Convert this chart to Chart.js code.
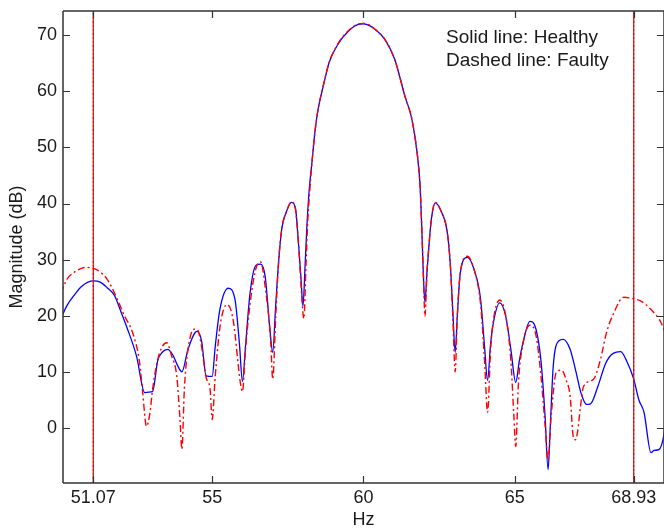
<!DOCTYPE html>
<html>
<head>
<meta charset="utf-8">
<script src="https://cdn.jsdelivr.net/npm/chart.js@4"></script>
<style>
html,body{margin:0;padding:0;background:#fff;}
canvas{display:block;}
</style>
</head>
<body>
<canvas id="c" width="664" height="529"></canvas>
<script>
const hzHealthy = [50.0,50.2,50.43,50.7,51.07,51.3,51.53,51.77,52.0,52.17,52.5,52.77,52.9,53.03,53.2,53.35,53.53,53.7,53.85,54.0,54.2,54.5,54.65,54.8,55.0,55.1,55.25,55.53,55.75,55.9,56.0,56.1,56.25,56.45,56.6,56.75,56.9,57.0,57.1,57.2,57.3,57.45,57.62,57.75,57.85,57.93,58.0,58.07,58.13,58.2,58.3,58.4,58.5,58.67,58.87,59.17,59.5,59.83,60.0,60.2,60.37,60.7,61.03,61.37,61.6,61.77,61.87,61.93,61.97,62.03,62.1,62.17,62.25,62.37,62.55,62.77,62.87,62.95,63.03,63.1,63.2,63.43,63.65,63.87,64.0,64.1,64.2,64.3,64.5,64.7,64.87,65.03,65.15,65.27,65.5,65.7,65.87,66.0,66.1,66.17,66.27,66.45,66.6,66.83,67.0,67.2,67.37,67.5,67.75,68.0,68.25,68.5,68.7,68.93,69.1,69.27,69.5,69.6,69.77,69.9,70.0];
const dbHealthy = [19.5,21.8,23.6,25.3,26.2,26.0,25.0,23.6,20.5,18.1,12.8,6.3,6.4,6.5,12.0,13.5,14.0,13.0,11.2,10.0,14.0,17.2,15.5,9.3,9.2,14.5,21.0,24.9,23.0,15.0,8.3,14.5,24.0,29.0,29.2,27.0,18.0,13.5,22.0,30.0,35.5,38.5,40.2,39.2,33.0,27.0,21.7,29.0,36.0,42.0,47.5,53.0,56.8,60.9,65.2,68.5,70.7,71.9,72.0,71.7,71.1,69.3,65.7,59.1,55.0,49.1,43.1,35.0,28.5,22.4,28.0,33.0,37.5,40.1,38.8,34.8,29.0,21.0,13.5,20.0,27.7,30.4,28.3,22.9,14.5,8.5,15.0,19.0,22.3,19.9,14.0,8.1,12.0,15.2,19.0,17.6,11.7,2.1,-7.4,0.0,11.0,15.5,15.8,14.0,10.5,6.0,4.2,4.3,7.5,11.5,13.3,13.6,11.9,8.7,5.0,2.8,-4.4,-4.0,-3.8,-2.0,1.9];

const hzFaulty = [50.0,50.2,50.43,50.7,50.87,51.1,51.3,51.53,51.87,52.1,52.37,52.6,52.7,52.83,52.95,53.03,53.2,53.35,53.5,53.65,53.83,53.93,54.0,54.08,54.2,54.4,54.5,54.65,54.8,54.93,55.0,55.1,55.27,55.5,55.7,55.93,56.0,56.1,56.27,56.45,56.6,56.75,56.93,57.0,57.1,57.2,57.3,57.45,57.62,57.75,57.85,57.93,58.03,58.1,58.15,58.22,58.3,58.4,58.5,58.67,58.87,59.17,59.5,59.83,60.0,60.2,60.37,60.7,61.03,61.37,61.6,61.77,61.87,61.93,61.98,62.03,62.1,62.17,62.25,62.37,62.55,62.77,62.87,62.95,63.03,63.1,63.2,63.43,63.65,63.87,64.0,64.1,64.2,64.3,64.5,64.7,64.87,64.97,65.03,65.12,65.27,65.5,65.7,65.87,66.0,66.1,66.2,66.37,66.55,66.7,66.83,66.93,67.0,67.07,67.17,67.27,67.6,67.83,68.03,68.27,68.6,68.93,69.17,69.5,69.83,70.0];
const dbFaulty = [24.0,26.5,27.7,28.5,28.6,28.4,27.8,26.5,22.9,20.0,17.0,11.7,6.5,0.3,3.0,6.9,12.2,14.5,15.2,13.0,9.2,2.1,-3.8,6.9,14.0,17.6,17.6,14.5,9.0,6.9,1.5,9.2,18.5,22.0,19.0,8.1,6.5,14.0,22.9,28.5,29.6,25.2,15.8,8.7,20.0,30.0,35.5,38.5,40.3,39.0,33.0,26.0,19.5,29.0,36.0,42.0,47.5,53.0,56.8,61.0,65.2,68.6,70.8,72.0,72.1,71.8,71.1,69.3,65.7,59.1,55.0,49.1,43.1,35.0,27.0,19.9,28.0,33.0,37.5,40.2,38.8,34.8,29.0,20.0,10.0,20.0,27.7,30.6,28.3,22.0,12.0,2.8,14.0,19.5,22.8,20.0,12.0,2.0,-3.3,8.0,15.0,18.3,16.5,9.0,0.5,-5.7,2.0,9.9,10.3,8.5,5.6,-1.5,-2.1,-0.8,3.8,7.4,8.7,12.2,17.0,20.5,23.3,23.0,22.6,21.1,18.8,16.5];

const markerHz = [51.07, 68.93];
const xTickValues = [51.07, 55, 60, 65, 68.93];
const xTickLabels = ['51.07', '55', '60', '65', '68.93'];
const yTickValues = [0, 10, 20, 30, 40, 50, 60, 70];
const legendLines = ['Solid line: Healthy', 'Dashed line: Faulty'];

const X_MIN = 50.07, X_MAX = 69.93, Y_MIN = -9.8, Y_MAX = 74.3;

const toPts = (xs, ys) => xs.map((x, i) => ({x: x, y: ys[i]}));

const datasets = [
  {label: 'Healthy', data: toPts(hzHealthy, dbHealthy), borderColor: '#0000ff', borderWidth: 1.3,
   pointRadius: 0, cubicInterpolationMode: 'monotone', order: 2},
  {label: 'Faulty', data: toPts(hzFaulty, dbFaulty), borderColor: '#ff0000', borderWidth: 1.4,
   borderDash: [7, 3, 2, 3], pointRadius: 0, cubicInterpolationMode: 'monotone', order: 1}
];
const markerColors = [['#e00000', [], 0], ['#00b0e0', [2, 10], 0], ['#90c000', [2, 10], 4], ['#9020e0', [2, 10], 8]];
markerHz.forEach(h => {
  markerColors.forEach(([c, d, o]) => {
    datasets.push({label: 'marker', data: [{x: h, y: Y_MIN}, {x: h, y: Y_MAX}], borderColor: c,
      borderWidth: 1.2, borderDash: d, borderDashOffset: o, pointRadius: 0, order: 0});
  });
});

const framePlugin = {
  id: 'frame',
  afterDraw(chart) {
    const {ctx, chartArea: a, scales: {x, y}} = chart;
    ctx.save();
    ctx.strokeStyle = '#333';
    ctx.lineWidth = 1.5;
    ctx.beginPath();
    ctx.moveTo(a.left, a.top); ctx.lineTo(a.right + 2, a.top);
    ctx.moveTo(a.left, a.top); ctx.lineTo(a.left, a.bottom);
    ctx.moveTo(a.left, a.bottom); ctx.lineTo(a.right + 2, a.bottom);
    ctx.moveTo(a.right, a.top); ctx.lineTo(a.right, a.bottom);
    ctx.stroke();
    ctx.lineWidth = 1.2;
    ctx.beginPath();
    xTickValues.forEach(v => {
      const px = Math.round(x.getPixelForValue(v)) + 0.5;
      ctx.moveTo(px, a.bottom); ctx.lineTo(px, a.bottom - 7);
      ctx.moveTo(px, a.top); ctx.lineTo(px, a.top + 7);
    });
    yTickValues.forEach(v => {
      const py = Math.round(y.getPixelForValue(v)) + 0.5;
      ctx.moveTo(a.left, py); ctx.lineTo(a.left + 7, py);
      ctx.moveTo(a.right, py); ctx.lineTo(a.right - 7, py);
    });
    ctx.stroke();
    ctx.fillStyle = '#1a1a1a';
    ctx.font = '19px "Liberation Sans", Arial, sans-serif';
    ctx.textBaseline = 'middle';
    ctx.textAlign = 'left';
    legendLines.forEach((t, i) => ctx.fillText(t, 446, 38 + i * 23));
    ctx.restore();
  }
};

new Chart(document.getElementById('c'), {
  type: 'line',
  data: {datasets},
  options: {
    responsive: false,
    animation: false,
    layout: {padding: {left: 0, right: 0, top: 11, bottom: 0}},
    plugins: {legend: {display: false}, tooltip: {enabled: false}},
    scales: {
      x: {
        type: 'linear', min: X_MIN, max: X_MAX,
        afterBuildTicks: s => { s.ticks = xTickValues.map(v => ({value: v})); },
        afterFit: s => { s.height = 46; s.paddingLeft = 0; s.paddingRight = 0; },
        grid: {display: false, drawTicks: false}, border: {display: false},
        ticks: {autoSkip: false, maxRotation: 0, padding: 4, color: '#1a1a1a',
          font: {family: '"Liberation Sans", Arial, sans-serif', size: 18},
          callback: (v, i) => xTickLabels[i]},
        title: {display: true, text: 'Hz', color: '#1a1a1a', padding: {top: 0, bottom: -2},
          font: {family: '"Liberation Sans", Arial, sans-serif', size: 18}}
      },
      y: {
        type: 'linear', min: Y_MIN, max: Y_MAX,
        afterBuildTicks: s => { s.ticks = yTickValues.map(v => ({value: v})); },
        afterFit: s => { s.width = 63; s.paddingTop = 0; s.paddingBottom = 0; },
        grid: {display: false, drawTicks: false}, border: {display: false},
        ticks: {padding: 6, color: '#1a1a1a',
          font: {family: '"Liberation Sans", Arial, sans-serif', size: 18}},
        title: {display: true, text: 'Magnitude (dB)', color: '#1a1a1a', padding: {top: 6, bottom: 0},
          font: {family: '"Liberation Sans", Arial, sans-serif', size: 18}}
      }
    }
  },
  plugins: [framePlugin]
});
</script>
</body>
</html>
